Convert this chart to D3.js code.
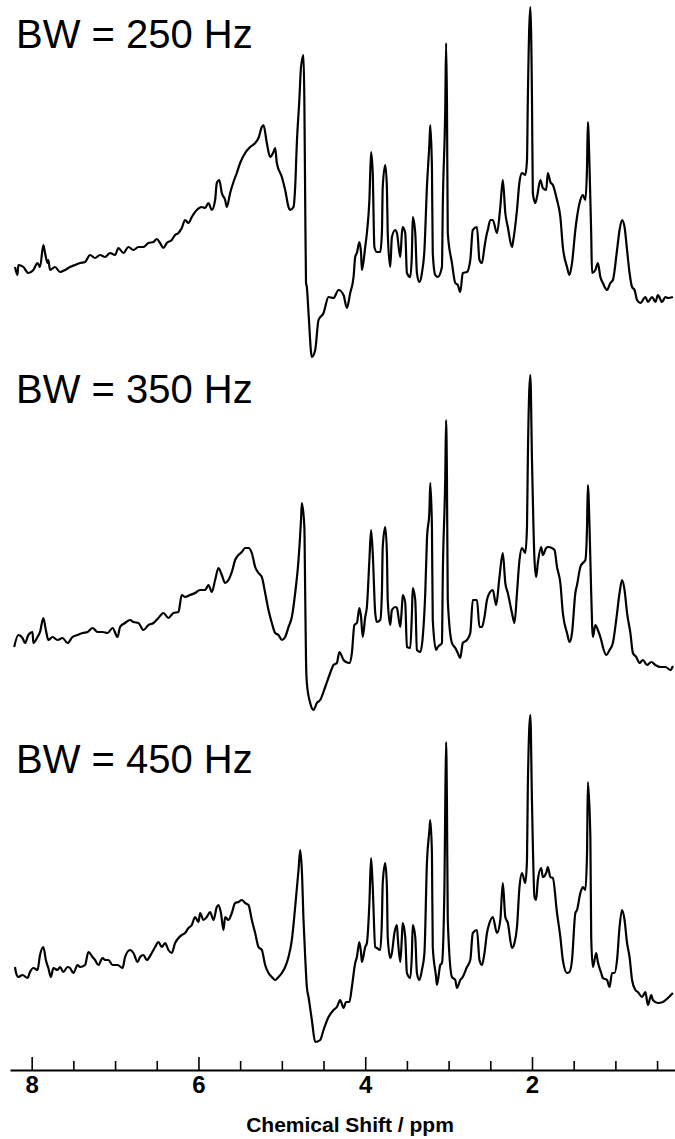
<!DOCTYPE html>
<html>
<head>
<meta charset="utf-8">
<script src="https://cdn.jsdelivr.net/npm/d3@7"></script>
<style>
  html, body { margin: 0; padding: 0; background: #fff; }
  svg { display: block; }
</style>
</head>
<body>
<svg id="chart" width="675" height="1139"></svg>
<script>
// ---- Data (ppm, intensity in a.u.) ----
const labels = ["BW = 250 Hz", "BW = 350 Hz", "BW = 450 Hz"];
const majorTicks = [8, 6, 4, 2];
const minorTicks = [7.5, 7, 6.5, 5.5, 5, 4.5, 3.5, 3, 2.5, 1.5, 1, 0.5];
const axisTitle = "Chemical Shift / ppm";

const ppm1 = [8.20,8.17,8.16,8.10,8.04,7.98,7.93,7.90,7.86,7.84,7.81,7.80,7.78,7.72,7.66,7.60,7.54,7.48,7.42,7.36,7.30,7.24,7.18,7.12,7.06,7.00,6.96,6.90,6.84,6.78,6.72,6.66,6.60,6.54,6.50,6.46,6.42,6.38,6.32,6.28,6.24,6.20,6.16,6.12,6.08,6.02,5.96,5.92,5.88,5.84,5.80,5.78,5.75,5.72,5.68,5.66,5.62,5.58,5.54,5.50,5.44,5.38,5.32,5.28,5.24,5.22,5.18,5.14,5.10,5.08,5.06,5.00,4.96,4.92,4.90,4.86,4.84,4.82,4.79,4.77,4.74,4.73,4.72,4.71,4.70,4.68,4.64,4.60,4.56,4.50,4.44,4.38,4.32,4.26,4.22,4.18,4.14,4.12,4.10,4.07,4.05,4.04,4.00,3.98,3.95,3.93,3.91,3.89,3.86,3.82,3.80,3.79,3.76,3.74,3.73,3.70,3.68,3.64,3.62,3.58,3.56,3.55,3.52,3.50,3.46,3.44,3.43,3.40,3.38,3.35,3.32,3.29,3.26,3.23,3.22,3.20,3.19,3.16,3.13,3.08,3.07,3.04,3.03,3.02,3.01,2.96,2.92,2.89,2.86,2.83,2.78,2.74,2.71,2.66,2.63,2.60,2.57,2.54,2.53,2.50,2.47,2.42,2.38,2.35,2.32,2.29,2.24,2.23,2.18,2.15,2.12,2.08,2.06,2.05,2.02,2.00,1.99,1.96,1.94,1.90,1.87,1.83,1.81,1.78,1.75,1.70,1.66,1.63,1.58,1.55,1.52,1.48,1.46,1.42,1.39,1.36,1.34,1.33,1.31,1.29,1.28,1.24,1.21,1.18,1.15,1.10,1.06,1.03,0.98,0.95,0.92,0.89,0.86,0.83,0.80,0.77,0.74,0.70,0.64,0.61,0.56,0.52,0.49,0.44,0.40,0.37,0.31];
const int1 = [93,85,95,93,87,90,97,93,115,107,97,100,90,93,88,90,93,95,97,98,105,102,105,103,107,105,112,107,113,110,113,113,117,118,121,117,112,117,120,125,127,132,140,137,143,150,153,152,157,150,160,177,180,167,160,153,167,178,187,197,207,213,217,222,233,235,217,203,208,212,197,183,170,153,150,153,173,217,260,293,305,260,160,77,73,47,3,10,40,47,63,62,70,65,52,67,83,103,107,118,107,90,113,127,160,208,187,113,108,108,127,173,195,173,127,93,123,130,127,103,127,133,127,87,83,107,143,127,87,78,87,110,173,217,235,193,107,85,83,93,153,253,317,260,127,97,77,75,68,87,88,100,130,133,100,97,113,127,130,140,140,127,153,180,147,133,113,117,150,178,187,185,200,260,353,260,167,157,163,180,172,170,187,178,175,160,143,113,93,85,97,130,143,160,165,160,193,238,193,127,87,90,97,83,77,70,77,80,110,130,140,133,110,87,73,70,60,57,63,58,63,58,65,58,63,62,63];

const ppm2 = [8.21,8.16,8.11,8.08,8.04,7.99,7.98,7.93,7.90,7.86,7.83,7.80,7.75,7.69,7.63,7.57,7.51,7.45,7.39,7.33,7.27,7.21,7.15,7.09,7.03,6.97,6.94,6.88,6.82,6.78,6.72,6.66,6.60,6.54,6.48,6.42,6.36,6.30,6.24,6.20,6.16,6.10,6.04,5.98,5.92,5.88,5.84,5.80,5.76,5.72,5.68,5.64,5.60,5.56,5.52,5.48,5.44,5.40,5.36,5.32,5.28,5.24,5.20,5.16,5.12,5.08,5.04,5.00,4.96,4.92,4.88,4.84,4.80,4.77,4.76,4.73,4.72,4.71,4.70,4.66,4.62,4.58,4.54,4.48,4.42,4.38,4.34,4.31,4.26,4.23,4.19,4.16,4.13,4.10,4.07,4.05,4.03,4.00,3.98,3.95,3.93,3.91,3.88,3.86,3.82,3.80,3.79,3.76,3.74,3.73,3.70,3.68,3.64,3.62,3.58,3.56,3.55,3.52,3.50,3.46,3.44,3.43,3.40,3.38,3.34,3.31,3.28,3.26,3.23,3.22,3.20,3.19,3.15,3.13,3.08,3.07,3.04,3.03,3.02,3.01,2.96,2.92,2.89,2.86,2.83,2.78,2.74,2.71,2.66,2.63,2.60,2.57,2.54,2.51,2.47,2.43,2.39,2.35,2.32,2.29,2.24,2.21,2.18,2.15,2.12,2.08,2.06,2.05,2.02,2.00,1.97,1.95,1.93,1.89,1.87,1.83,1.81,1.76,1.73,1.70,1.66,1.63,1.58,1.55,1.52,1.48,1.46,1.42,1.39,1.36,1.34,1.33,1.31,1.29,1.27,1.24,1.21,1.17,1.15,1.11,1.07,1.03,0.99,0.95,0.92,0.89,0.86,0.82,0.79,0.75,0.71,0.67,0.62,0.57,0.52,0.46,0.40,0.34,0.31];
const int2 = [68,80,77,72,80,83,72,78,83,97,85,75,78,75,77,72,78,80,82,83,87,83,83,82,87,78,88,92,95,93,92,85,90,92,97,102,97,102,103,120,118,120,122,125,125,130,123,135,147,140,132,135,143,155,160,163,167,167,162,148,142,138,122,105,92,82,80,75,78,88,98,122,155,195,212,188,122,55,32,12,5,12,15,28,42,50,52,63,55,53,52,62,90,92,107,98,78,98,108,155,185,162,102,93,95,122,168,188,162,115,90,105,108,107,88,108,120,112,68,67,102,127,115,65,63,78,122,175,205,232,188,95,65,68,72,138,238,295,238,115,72,67,62,57,72,75,82,115,115,88,88,98,115,122,125,110,138,162,132,122,102,92,122,155,167,162,188,255,340,255,155,138,152,168,160,167,168,167,165,148,132,102,82,73,82,122,130,148,152,155,188,230,188,122,78,90,85,75,68,60,65,72,95,122,135,125,102,82,62,58,52,55,50,53,50,48,48,45,49];

const ppm3 = [8.20,8.19,8.16,8.11,8.05,8.02,7.98,7.93,7.90,7.86,7.83,7.80,7.77,7.74,7.69,7.66,7.62,7.57,7.54,7.50,7.45,7.42,7.36,7.32,7.27,7.24,7.20,7.15,7.12,7.08,7.03,6.97,6.91,6.88,6.82,6.78,6.73,6.70,6.66,6.62,6.56,6.52,6.48,6.44,6.40,6.36,6.32,6.28,6.24,6.20,6.16,6.12,6.08,6.04,6.00,5.98,5.94,5.90,5.86,5.82,5.78,5.76,5.73,5.70,5.68,5.64,5.60,5.56,5.52,5.48,5.44,5.40,5.36,5.32,5.28,5.24,5.20,5.16,5.12,5.08,5.04,5.00,4.96,4.92,4.88,4.84,4.80,4.78,4.76,4.74,4.72,4.70,4.68,4.64,4.60,4.54,4.50,4.44,4.38,4.34,4.30,4.26,4.23,4.19,4.16,4.12,4.10,4.07,4.05,4.04,4.00,3.98,3.95,3.93,3.91,3.88,3.86,3.82,3.80,3.79,3.76,3.74,3.73,3.70,3.68,3.65,3.62,3.61,3.58,3.56,3.55,3.52,3.50,3.46,3.44,3.43,3.40,3.38,3.35,3.32,3.29,3.26,3.23,3.22,3.20,3.19,3.15,3.14,3.10,3.08,3.05,3.04,3.03,3.02,3.01,2.96,2.92,2.90,2.86,2.83,2.78,2.74,2.71,2.66,2.63,2.60,2.57,2.54,2.51,2.47,2.42,2.38,2.35,2.32,2.29,2.24,2.21,2.18,2.15,2.12,2.08,2.06,2.05,2.02,2.00,1.97,1.95,1.93,1.89,1.87,1.83,1.81,1.78,1.75,1.70,1.66,1.63,1.58,1.55,1.52,1.48,1.46,1.42,1.39,1.36,1.34,1.33,1.30,1.29,1.27,1.23,1.21,1.17,1.15,1.10,1.07,1.04,1.01,0.98,0.95,0.92,0.89,0.86,0.83,0.80,0.76,0.73,0.68,0.64,0.61,0.57,0.55,0.49,0.43,0.37,0.31];
const int3 = [78,73,68,70,67,73,77,75,90,98,85,77,68,77,75,78,73,78,77,72,80,78,80,93,88,85,80,87,85,85,80,80,77,88,95,92,83,88,90,85,92,98,103,98,102,95,92,102,107,110,112,117,120,128,123,132,125,128,133,125,138,140,132,115,128,125,132,142,143,145,142,140,125,112,98,95,80,72,68,65,68,72,78,88,105,138,175,195,175,125,88,58,48,25,3,5,15,28,35,38,45,37,43,43,58,82,88,103,92,83,98,102,142,187,158,98,97,95,125,162,182,158,108,87,92,112,120,108,83,108,122,108,72,67,92,120,108,72,65,75,92,182,215,225,192,98,68,60,80,82,158,242,303,242,125,68,65,57,65,68,78,85,112,115,85,80,92,112,122,128,112,125,162,128,122,97,102,118,158,172,162,185,258,330,242,148,145,165,177,168,172,178,168,167,132,108,85,72,73,85,132,135,152,158,155,192,263,208,108,78,92,83,72,67,65,58,72,72,85,118,135,125,102,88,65,55,53,48,53,40,50,45,42,43,47,52];

const spectra = [
  { label: labels[0], ppm: ppm1, intensity: int1, base: 360, labelY: 48 },
  { label: labels[1], ppm: ppm2, intensity: int2, base: 715, labelY: 403 },
  { label: labels[2], ppm: ppm3, intensity: int3, base: 1045, labelY: 773 }
];

// ---- Drawing ----
const svg = d3.select("#chart");
const axisY = 1070;

const x = d3.scaleLinear().domain([8.26, 0.285]).range([10, 675]);
const intensitySpan = 355;

spectra.forEach(s => {
  const y = d3.scaleLinear().domain([0, intensitySpan]).range([s.base, s.base - intensitySpan]);
  const pts = s.ppm.map((p, i) => [p, s.intensity[i]]);
  const line = d3.line().x(d => x(d[0])).y(d => y(d[1])).curve(d3.curveMonotoneX);
  svg.append("path")
    .datum(pts)
    .attr("d", line)
    .attr("fill", "none")
    .attr("stroke", "#000")
    .attr("stroke-width", 2.2)
    .attr("stroke-linejoin", "round");
  svg.append("text")
    .attr("x", 16)
    .attr("y", s.labelY)
    .attr("font-family", "'Liberation Sans', Arial, sans-serif")
    .attr("font-size", 40)
    .attr("fill", "#000")
    .text(s.label);
});

// Minor ticks
const minorAxis = d3.axisBottom(x).tickValues(minorTicks).tickSizeInner(-9).tickSizeOuter(0).tickFormat("");
const gMinor = svg.append("g").attr("transform", `translate(0,${axisY})`).call(minorAxis);
gMinor.select(".domain").remove();
gMinor.selectAll(".tick line").attr("stroke", "#000").attr("stroke-width", 1.6);

// Major ticks + labels
const majorAxis = d3.axisBottom(x).tickValues(majorTicks).tickSizeInner(-13).tickSizeOuter(0).tickPadding(6).tickFormat(d3.format("d"));
const gMajor = svg.append("g").attr("transform", `translate(0,${axisY})`).call(majorAxis);
gMajor.select(".domain").attr("stroke", "#000").attr("stroke-width", 2.2);
gMajor.selectAll(".tick line").attr("stroke", "#000").attr("stroke-width", 1.6);
gMajor.selectAll(".tick text")
  .attr("font-family", "'Liberation Sans', Arial, sans-serif")
  .attr("font-size", 24)
  .attr("font-weight", "bold")
  .attr("fill", "#000")
  .attr("dy", "0.71em");

svg.append("text")
  .attr("x", 350)
  .attr("y", 1132)
  .attr("text-anchor", "middle")
  .attr("font-family", "'Liberation Sans', Arial, sans-serif")
  .attr("font-size", 21)
  .attr("font-weight", "bold")
  .attr("fill", "#000")
  .text(axisTitle);
</script>
</body>
</html>
